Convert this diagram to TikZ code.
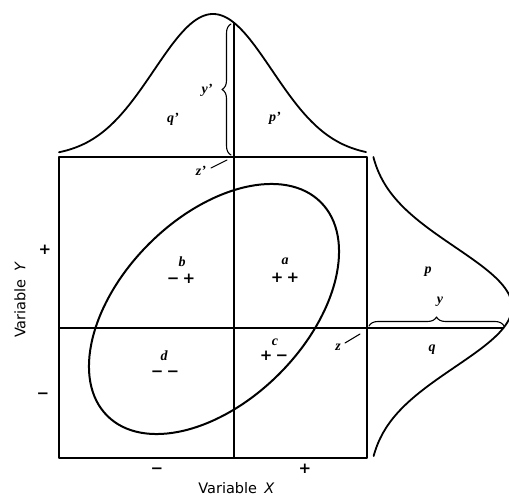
\documentclass[tikz,border=0pt]{standalone}
\usepackage{fontspec}
\newfontfamily\labfont{DejaVu Sans}
\newfontfamily\letfont{Liberation Serif}
\usetikzlibrary{decorations.pathreplacing}
\begin{document}
\begin{tikzpicture}[x=1pt,y=-1pt,line cap=round,line join=round,
  declare function={g(\t)=exp(-0.5*\t*\t);},
  boxline/.style={line width=1.6pt},
  curveline/.style={line width=1.8pt},
  braceline/.style={line width=1.1pt},
  leader/.style={line width=1.1pt},
  letter/.style={font=\letfont\fontsize{14}{14}\selectfont\bfseries\itshape, inner sep=0pt},
  sgn/.style={font=\labfont\fontsize{15}{15}\selectfont\bfseries, inner sep=0pt},
  axlab/.style={font=\labfont\fontsize{14.5}{14.5}\selectfont, inner sep=0pt}]
\useasboundingbox (0,0) rectangle (509,497);
\clip (0,0) rectangle (509,497);
% frame points
\coordinate (TL) at (59,157);
\coordinate (TR) at (367,157);
\coordinate (BL) at (59,458);
\coordinate (BR) at (367,458);
\coordinate (MT) at (234,157);
\coordinate (MB) at (234,458);
\coordinate (ML) at (59,328);
\coordinate (MR) at (367,328);
\coordinate (Ytop) at (234,23);
\coordinate (Xend) at (503.5,328);
\coordinate (C) at (214,309);
% box and dividers
\draw[boxline] (TL) rectangle (BR);
\draw[boxline] (MB) -- (MT) -- (Ytop);
\draw[boxline] (ML) -- (MR) -- (Xend);
% marginal curves
\draw[curveline] plot[domain=59:366,samples=120] (\x,{157-143*g((\x-213)/59)});
\draw[curveline] plot[domain=157:456,samples=120] ({367+145*g((\x-307)/60)},\x);
% ellipse
\draw[curveline,line width=2pt,rotate around={45:(C)}] (C) ellipse [x radius=151, y radius=92];
% braces
\draw[braceline,decorate,decoration={brace,amplitude=9pt}] (231,155) -- (231,24);
\draw[braceline,decorate,decoration={brace,amplitude=9pt}] (369,326) -- (504,326);
% leaders
\coordinate (zpa) at (211,168);
\coordinate (zpb) at (227,160);
\draw[leader] (zpa) -- (zpb);
\coordinate (za) at (345,343);
\coordinate (zb) at (360,334);
\draw[leader] (za) -- (zb);
% labels top
\node[letter] (qp) at (173,119) {q’};
\node[letter] (pp) at (275,118) {p’};
\node[letter] (yp) at (207,90) {y’};
\node[letter] (zp) at (201,171) {z’};
% labels right
\node[letter] (p) at (428,272) {p};
\node[letter] (y) at (440,302) {y};
\node[letter] (q) at (432,350) {q};
\node[letter] (z) at (338,347) {z};
% quadrant labels
\node[letter] (b) at (182,262) {b};
\node[sgn] (bs) at (181,279) {−\hspace{3pt}+};
\node[letter] (a) at (285,261) {a};
\node[sgn] (as) at (285,278) {+\hspace{3pt}+};
\node[letter] (c) at (275,342) {c};
\node[sgn] (cs) at (274,356) {+\hspace{3pt}−};
\node[letter] (d) at (164,356) {d};
\node[sgn] (ds) at (165,374) {−\hspace{3pt}−};
% axis signs
\node[sgn] (yplus) at (45,250) {+};
\node[sgn] (yminus) at (43,396) {−};
\node[sgn] (xminus) at (157,471) {−};
\node[sgn] (xplus) at (305,469) {+};
% axis titles
\node[axlab] (xlab) at (236.5,488) {Variable\hspace{0.5em}\textit{X}};
\node[axlab,rotate=90] (ylab) at (20,300) {Variable\hspace{0.5em}\textit{Y}};
\end{tikzpicture}
\end{document}
